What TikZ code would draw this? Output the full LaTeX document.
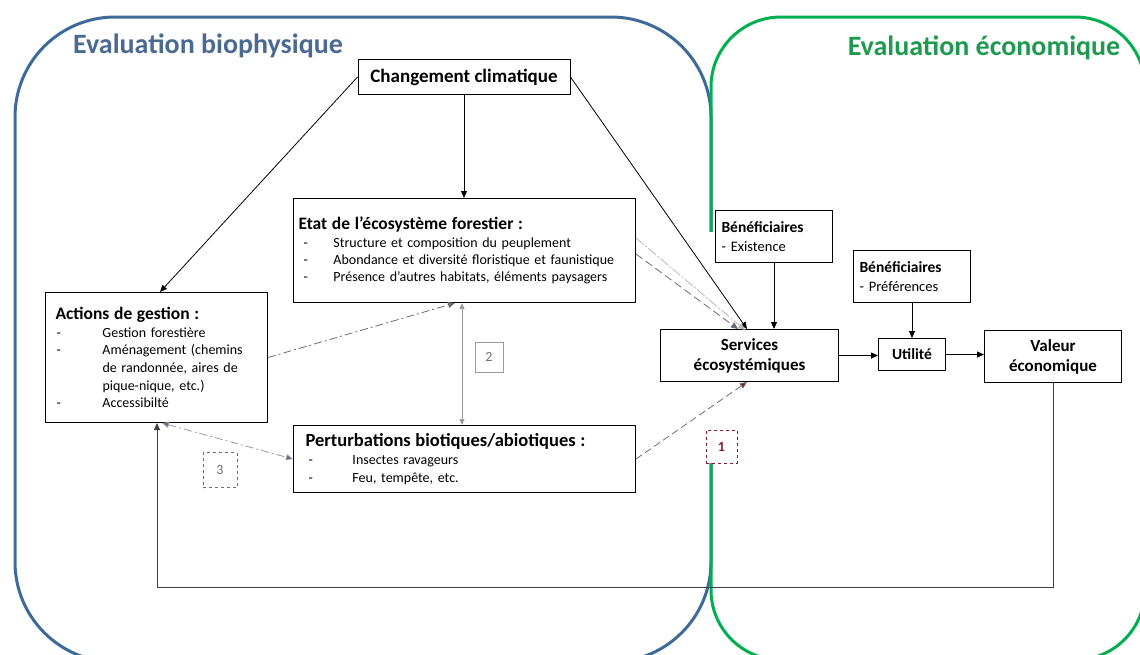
\documentclass[tikz,border=0pt]{standalone}
\usepackage{fontspec}
\setmainfont{Carlito}
\usetikzlibrary{arrows.meta,calc}
\definecolor{bioblue}{HTML}{3E6A9A}
\definecolor{biotext}{HTML}{4A6A92}
\definecolor{ecogreen}{HTML}{00B050}
\definecolor{ecotext}{HTML}{1E9A50}
\definecolor{darkred}{HTML}{8B1A2A}
\definecolor{lgray}{HTML}{9A9A9A}
\definecolor{mgray}{HTML}{6E6E6E}
\definecolor{tipblue}{HTML}{5A6E8E}
\newcommand{\itm}[2]{\makebox[#1][l]{-}#2}
\newcommand{\bt}{\fontsize{17.5}{20}\selectfont\bfseries}
\tikzset{
  box/.style={draw=black, line width=1pt, fill=white, inner ysep=0pt, anchor=north west},
  conn/.style={draw=black, line width=0.8pt, -{Triangle[length=7pt,width=6pt]}},
  dconn/.style={draw=mgray, line width=0.8pt, dash pattern=on 8pt off 3pt on 2pt off 3pt},
  lblbox/.style={minimum width=30pt, minimum height=31pt, inner sep=0pt, font=\fontsize{14}{16}\selectfont, fill=white}
}
\begin{document}
\begin{tikzpicture}[x=1pt,y=-1pt]
\useasboundingbox (0,0) rectangle (1140,654);
\clip (0,0) rectangle (1140,654);
\fill[white] (0,0) rectangle (1140,654);
% frames
\draw[bioblue, line width=3pt, rounded corners=100pt] (15,17) rectangle (711,662);
\draw[ecogreen, line width=3pt, rounded corners=70pt] (711,17) rectangle (1145,660);
\fill[white] (700,232) rectangle (722,463);
% titles
\node[text=biotext, font=\fontsize{28}{32}\selectfont\bfseries] (tbio) at (208,46) {Evaluation biophysique};
\node[text=ecotext, font=\fontsize{28}{32}\selectfont\bfseries] (teco) at (984,48) {Evaluation économique};
% boxes
\node[box, font=\fontsize{19}{22}\selectfont\bfseries, minimum width=212pt, minimum height=35pt, anchor=center] (cc) at (464,77) {Changement climatique};
\node[box, minimum width=342pt, minimum height=104pt, text width=332pt, inner xsep=5pt, align=left, font=\fontsize{14}{17}\selectfont] (etat) at (293,198)
 {{\bt Etat de l'écosystème forestier :}\\[1pt]
  \hspace*{5pt}\itm{30pt}{Structure et composition du peuplement}\\
  \hspace*{5pt}\itm{30pt}{Abondance et diversité floristique et faunistique}\\
  \hspace*{5pt}\itm{30pt}{Présence d'autres habitats, éléments paysagers}};
\node[box, minimum width=222pt, minimum height=130pt, text width=202pt, inner xsep=10pt, align=left, font=\fontsize{14}{17.7}\selectfont] (act) at (45,292)
 {{\bt Actions de gestion :}\\
  \hspace*{1pt}\itm{46pt}{Gestion forestière}\\
  \hspace*{1pt}\itm{46pt}{Aménagement (chemins}\\
  \hspace*{47pt}de randonnée, aires de\\
  \hspace*{47pt}pique-nique, etc.)\\
  \hspace*{1pt}\itm{46pt}{Accessibilté}};
\node[box, minimum width=342pt, minimum height=67pt, text width=318pt, inner xsep=12pt, align=left, font=\fontsize{14}{18}\selectfont] (pert) at (293,425)
 {{\fontsize{18.5}{20}\selectfont\bfseries Perturbations biotiques/abiotiques :}\\
  \hspace*{3pt}\itm{44pt}{Insectes ravageurs}\\
  \hspace*{3pt}\itm{44pt}{Feu, tempête, etc.}};
\node[box, minimum width=117pt, minimum height=52pt, text width=105pt, inner xsep=6pt, align=left, font=\fontsize{14.5}{19}\selectfont] (ben1) at (715,210)
 {{\fontsize{15.5}{17}\selectfont\bfseries Bénéficiaires}\\- Existence};
\node[box, minimum width=178pt, minimum height=52pt, align=center, font=\fontsize{17}{20}\selectfont\bfseries] (srv) at (660,329)
 {Services\\écosystémiques};
\node[box, minimum width=117pt, minimum height=52pt, text width=105pt, inner xsep=6pt, align=left, font=\fontsize{14.5}{19}\selectfont] (ben2) at (853,250)
 {{\fontsize{15.5}{17}\selectfont\bfseries Bénéficiaires}\\- Préférences};
\node[box, minimum width=67pt, minimum height=32pt, font=\fontsize{15.5}{18}\selectfont\bfseries] (util) at (878,338) {Utilité};
\node[box, minimum width=137pt, minimum height=52pt, align=center, font=\fontsize{17}{20}\selectfont\bfseries] (val) at (984,330)
 {Valeur\\économique};
% label boxes
\node[lblbox, draw=lgray, line width=0.6pt, text=mgray, minimum width=28pt, minimum height=30pt] (l2) at (489,357) {2};
\node[lblbox, draw=mgray, dashed, line width=0.6pt, text=mgray, minimum width=34pt, minimum height=35pt] (l3) at (220,470) {3};
\node[lblbox, draw=darkred, dashed, line width=0.6pt, text=darkred, font=\fontsize{14}{16}\selectfont\bfseries, minimum width=31pt, minimum height=33pt] (l1) at (721.5,446.5) {1};
% connectors
\coordinate (loopy) at (0,587);
\draw[conn] (cc.west) -- ([xshift=115pt]act.north west);
\draw[conn] (cc.south) -- (cc.south |- etat.north);
\draw[conn] (cc.east) -- ([xshift=87pt]srv.north west);
\draw[draw=lgray!70, line width=0.8pt, dash pattern=on 10pt off 2pt on 2pt off 2pt, -{Triangle[length=7pt,width=6pt]}] ([yshift=-40pt]etat.north east) -- ([xshift=85pt,yshift=-1pt]srv.north west);
\draw[dconn, dash pattern=on 8pt off 4pt, -{Triangle[length=7pt,width=6pt,fill=tipblue]}] ([yshift=-56pt]etat.north east) -- ([xshift=78pt]srv.north west);
\draw[dconn, -{Triangle[length=7pt,width=6pt,fill=tipblue]}] (act.east) -- ([xshift=162pt]etat.south west);
\draw[draw=lgray, line width=0.8pt, {Triangle[length=6pt,width=5pt]}-{Triangle[length=6pt,width=5pt]}] ([xshift=169pt]etat.south west) -- ([xshift=169pt]pert.north west);
\draw[dconn, draw=lgray, {Triangle[length=7pt,width=6pt,fill=tipblue]}-{Triangle[length=7pt,width=6pt,fill=tipblue]}] ([xshift=117pt]act.south west) -- (pert.west);
\draw[dconn, dash pattern=on 7pt off 4pt, -{Triangle[length=7pt,width=6pt,fill=darkred]}] (pert.east) -- ([xshift=87pt]srv.south west);
\draw[conn, draw=black!75] (val.south) -- (val.south |- loopy) -| ([xshift=112pt]act.south west);
\draw[conn] (ben1.south) -- (ben1.south |- srv.north);
\draw[conn] (srv.east) -- (srv.east -| util.west);
\draw[conn] (ben2.south) -- (ben2.south |- util.north);
\draw[conn] (util.east) -- (util.east -| val.west);
\end{tikzpicture}
\end{document}
